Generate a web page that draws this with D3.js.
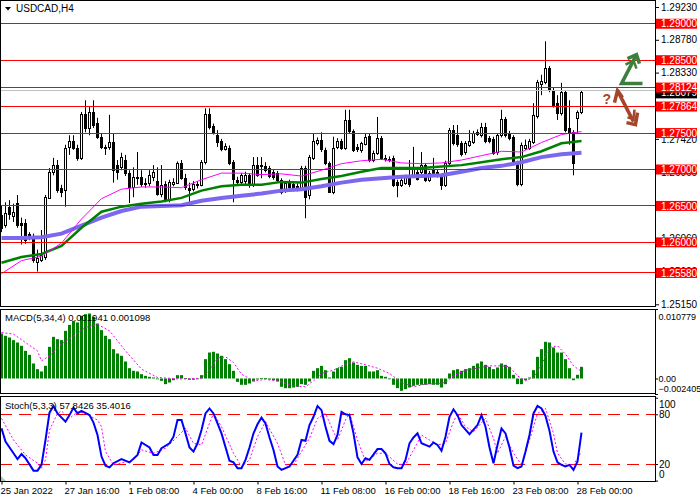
<!DOCTYPE html>
<html><head><meta charset="utf-8">
<script src="https://cdn.jsdelivr.net/npm/d3@7"></script>
<style>body{margin:0;background:#fff}svg{display:block}text{font-family:"Liberation Sans",Arial,sans-serif}</style>
</head><body><svg id="c" width="700" height="500"></svg>
<script>
const symbolTitle = "USDCAD,H4";
const openP = [1.2638,1.2623,1.2649,1.2636,1.2654,1.2627,1.2627,1.2612,1.2606,1.2573,
1.2576,1.2580,1.2662,1.2697,1.2706,1.2675,1.2672,1.2731,1.2739,1.2730,
1.2716,1.2776,1.2757,1.2779,1.2764,1.2745,1.2731,1.2731,1.2738,1.2706,
1.2703,1.2713,1.2695,1.2676,1.2688,1.2690,1.2681,1.2681,1.2690,1.2684,
1.2666,1.2680,1.2660,1.2680,1.2682,1.2709,1.2688,1.2675,1.2673,1.2680,
1.2679,1.2710,1.2776,1.2760,1.2747,1.2739,1.2728,1.2730,1.2710,1.2686,
1.2682,1.2684,1.2692,1.2679,1.2706,1.2705,1.2705,1.2702,1.2697,1.2695,
1.2686,1.2670,1.2681,1.2680,1.2678,1.2674,1.2702,1.2665,1.2716,1.2736,
1.2740,1.2727,1.2709,1.2669,1.2731,1.2739,1.2730,1.2768,1.2753,1.2731,
1.2727,1.2736,1.2746,1.2713,1.2723,1.2743,1.2716,1.2714,1.2716,1.2683,
1.2679,1.2682,1.2692,1.2692,1.2697,1.2696,1.2706,1.2686,1.2699,1.2697,
1.2690,1.2679,1.2709,1.2754,1.2747,1.2736,1.2723,1.2734,1.2738,1.2749,
1.2747,1.2758,1.2743,1.2742,1.2723,1.2747,1.2769,1.2750,1.2745,1.2709,
1.2680,1.2730,1.2730,1.2738,1.2773,1.2817,1.2820,1.2839,1.2809,1.2791,
1.2777,1.2806,1.2757,1.2751,1.2771,1.2779];
const highP = [1.2651,1.2655,1.2658,1.2653,1.2665,1.2634,1.2632,1.2614,1.2612,1.2590,
1.2617,1.2665,1.2702,1.2716,1.2713,1.2679,1.2734,1.2747,1.2747,1.2734,
1.2779,1.2795,1.2786,1.2795,1.2771,1.2750,1.2734,1.2775,1.2750,1.2713,
1.2723,1.2720,1.2699,1.2703,1.2724,1.2699,1.2688,1.2699,1.2706,1.2703,
1.2706,1.2684,1.2686,1.2688,1.2711,1.2713,1.2694,1.2682,1.2684,1.2684,
1.2713,1.2784,1.2784,1.2763,1.2754,1.2742,1.2736,1.2733,1.2713,1.2690,
1.2695,1.2697,1.2695,1.2717,1.2717,1.2717,1.2710,1.2705,1.2700,1.2698,
1.2688,1.2684,1.2686,1.2684,1.2681,1.2705,1.2705,1.2720,1.2750,1.2744,
1.2751,1.2730,1.2711,1.2745,1.2743,1.2742,1.2782,1.2782,1.2755,1.2735,
1.2738,1.2750,1.2749,1.2726,1.2772,1.2746,1.2720,1.2718,1.2719,1.2686,
1.2690,1.2693,1.2713,1.2731,1.2700,1.2724,1.2709,1.2698,1.2716,1.2700,
1.2693,1.2712,1.2757,1.2761,1.2761,1.2739,1.2739,1.2754,1.2753,1.2755,
1.2764,1.2764,1.2746,1.2745,1.2750,1.2782,1.2772,1.2753,1.2747,1.2712,
1.2737,1.2741,1.2742,1.2791,1.2823,1.2830,1.2876,1.2842,1.2812,1.2802,
1.2819,1.2809,1.2795,1.2754,1.2781,1.2808];
const lowP = [1.2614,1.2620,1.2631,1.2628,1.2620,1.2597,1.2598,1.2603,1.2572,1.2560,
1.2573,1.2576,1.2660,1.2692,1.2668,1.2662,1.2649,1.2720,1.2727,1.2712,
1.2713,1.2751,1.2747,1.2757,1.2742,1.2728,1.2720,1.2727,1.2682,1.2686,
1.2699,1.2691,1.2654,1.2662,1.2679,1.2676,1.2675,1.2677,1.2684,1.2664,
1.2662,1.2655,1.2655,1.2677,1.2680,1.2686,1.2672,1.2655,1.2670,1.2674,
1.2677,1.2707,1.2755,1.2748,1.2731,1.2725,1.2726,1.2706,1.2655,1.2679,
1.2679,1.2680,1.2675,1.2676,1.2690,1.2688,1.2696,1.2688,1.2686,1.2683,
1.2666,1.2668,1.2672,1.2670,1.2670,1.2671,1.2633,1.2659,1.2713,1.2733,
1.2724,1.2706,1.2668,1.2666,1.2728,1.2727,1.2727,1.2750,1.2724,1.2724,
1.2723,1.2733,1.2710,1.2710,1.2720,1.2713,1.2711,1.2710,1.2676,1.2662,
1.2676,1.2679,1.2676,1.2690,1.2685,1.2693,1.2683,1.2683,1.2692,1.2689,
1.2672,1.2676,1.2706,1.2733,1.2731,1.2718,1.2720,1.2731,1.2735,1.2746,
1.2744,1.2736,1.2736,1.2720,1.2720,1.2744,1.2744,1.2740,1.2706,1.2677,
1.2677,1.2727,1.2727,1.2735,1.2770,1.2802,1.2817,1.2806,1.2785,1.2768,
1.2774,1.2751,1.2734,1.2692,1.2750,1.2776];
const closeP = [1.2620,1.2640,1.2639,1.2642,1.2624,1.2624,1.2603,1.2608,1.2576,1.2579,
1.2583,1.2662,1.2697,1.2706,1.2672,1.2669,1.2730,1.2739,1.2730,1.2716,
1.2776,1.2757,1.2779,1.2761,1.2745,1.2731,1.2730,1.2738,1.2699,1.2697,
1.2717,1.2695,1.2676,1.2690,1.2690,1.2680,1.2679,1.2692,1.2697,1.2666,
1.2679,1.2658,1.2683,1.2683,1.2709,1.2688,1.2675,1.2672,1.2680,1.2678,
1.2710,1.2776,1.2758,1.2751,1.2738,1.2728,1.2732,1.2709,1.2686,1.2683,
1.2692,1.2692,1.2679,1.2706,1.2692,1.2706,1.2699,1.2691,1.2690,1.2686,
1.2669,1.2681,1.2676,1.2675,1.2674,1.2702,1.2662,1.2717,1.2739,1.2740,
1.2727,1.2709,1.2669,1.2730,1.2739,1.2730,1.2768,1.2753,1.2727,1.2728,
1.2736,1.2745,1.2713,1.2723,1.2743,1.2716,1.2714,1.2713,1.2679,1.2679,
1.2686,1.2690,1.2679,1.2703,1.2688,1.2706,1.2686,1.2695,1.2695,1.2692,
1.2679,1.2709,1.2754,1.2736,1.2734,1.2721,1.2736,1.2739,1.2750,1.2752,
1.2758,1.2739,1.2739,1.2723,1.2747,1.2769,1.2747,1.2743,1.2709,1.2680,
1.2734,1.2734,1.2739,1.2775,1.2820,1.2821,1.2839,1.2809,1.2788,1.2777,
1.2806,1.2754,1.2751,1.2709,1.2779,1.2806];

const maIdx = [0,5,10,15,20,25,30,35,40,45,50,55,60,65,70,75,80,85,90,95,100,105,110,115,120,125,130,135,140,145];
const maFast = [1.2557,1.2575,1.2581,1.2599,1.2632,1.2660,1.2673,1.2676,1.2676,1.2675,1.2686,1.2695,1.2695,1.2693,1.2694,1.2691,1.2699,1.2708,1.2712,1.2714,1.2709,1.2708,1.2709,1.2713,1.2719,1.2725,1.2724,1.2737,1.2748,1.2752];
const maMid = [1.2572,1.2580,1.2584,1.2595,1.2620,1.2642,1.2649,1.2653,1.2656,1.2661,1.2671,1.2677,1.2679,1.2679,1.2683,1.2682,1.2687,1.2691,1.2697,1.2702,1.2702,1.2702,1.2704,1.2706,1.2710,1.2714,1.2717,1.2725,1.2736,1.2739];
const maSlow = [1.2606,1.2606,1.2607,1.2612,1.2623,1.2634,1.2643,1.2649,1.2650,1.2651,1.2657,1.2661,1.2664,1.2667,1.2671,1.2673,1.2677,1.2682,1.2686,1.2688,1.2690,1.2691,1.2692,1.2697,1.2702,1.2705,1.2710,1.2717,1.2721,1.2723];

const levels = [1.29, 1.285, 1.28124, 1.27864, 1.275, 1.27, 1.265, 1.26, 1.2558];
const levelLabels = ["1.29000","1.28500","1.28124","1.27864","1.27500","1.27000","1.26500","1.26000","1.25580"];
const priceTicks = [1.2923,1.2878,1.2833,1.2787,1.2742,1.2696,1.2651,1.2606,1.2560,1.2515];
const priceTickLabels = ["1.29230","1.28780","1.28330","1.27870","1.27420","1.26960","1.26510","1.26060","1.25600","1.25150"];
const currentPrice = 1.28079;
const currentLabel = "1.28079";

const macdHist = [0.00698,0.00662,0.00636,0.00595,0.00558,0.00507,0.00429,0.00367,0.00233,0.00145,
0.00109,0.00196,0.00491,0.00646,0.00610,0.00595,0.00739,0.00832,0.00894,0.00869,
0.00972,0.00998,0.01008,0.00956,0.00853,0.00750,0.00662,0.00610,0.00455,0.00388,
0.00352,0.00264,0.00160,0.00119,0.00109,0.00067,0.00041,0.00026,0.00016,-0.0001,
-0.00036,-0.00088,-0.00062,-0.00026,0.00052,0.00052,0.00005,-0.0002,-0.0002,-0.0001,
0.00052,0.00300,0.00403,0.00414,0.00388,0.00352,0.00300,0.00222,0.00119,-0.00052,
-0.00098,-0.00098,-0.00078,-0.00047,-0.00016,0.00005,0.00005,-0.00016,-0.00026,-0.00047,
-0.00129,-0.0015,-0.0015,-0.0014,-0.00129,-0.00088,-0.00098,-0.00047,0.00119,0.0016,
0.00196,0.00129,0.00016,0.00109,0.0016,0.00181,0.00284,0.00315,0.00248,0.00212,
0.00196,0.00196,0.00109,0.00109,0.00129,0.00041,0.00026,-0.0001,-0.00098,-0.0015,
-0.00191,-0.00165,-0.0014,-0.00114,-0.00098,-0.00098,-0.00098,-0.00088,-0.00098,-0.00098,
-0.0014,-0.00088,0.00078,0.00129,0.00145,0.00119,0.00145,0.0016,0.00196,0.00233,
0.00264,0.00212,0.00181,0.00145,0.00171,0.00233,0.00212,0.00181,0.00057,-0.00088,
-0.00088,-0.00026,0.00016,0.00129,0.00336,0.00455,0.00569,0.00558,0.00481,0.00403,
0.00403,0.00300,0.0016,-0.00026,0.00057,0.00181];
const macdSigIdx = [0,3,6,9,10,12,15,18,21,24,27,31,35,39,45,50,52,54,56,58,60,63,66,69,73,76,78,80,83,86,88,91,94,97,100,103,106,109,111,113,116,119,122,125,127,129,131,133,135,137,139,141,143,145];
const macdSig = [0.00713,0.00688,0.00558,0.00429,0.00274,0.00352,0.00533,0.00662,0.00791,0.0084,0.0074,0.00429,0.00145,0.00016,-0.0001,0.00005,0.00129,0.00315,0.00336,0.00248,0.00067,-0.00036,-0.00016,-0.00036,-0.00114,-0.00129,-0.00036,0.00078,0.00129,0.00222,0.00259,0.00212,0.0016,0.00078,-0.00062,-0.00129,-0.00088,-0.00078,-0.00062,0.00041,0.00129,0.0016,0.00196,0.00196,0.00181,0.00041,-0.00036,0.00016,0.00212,0.00481,0.00507,0.00377,0.00196,0.00109];
const macdDomain = [-0.002405, 0.010779];
const macdTitle = "MACD(5,34,4) 0.001941 0.001098";

const stochIdx = [0,1,3,4,5,6,8,9,10,11,12,13,14,16,17,18,19,20,22,23,24,25,26,27,28,30,32,34,35,37,38,39,40,42,43,44,45,46,47,48,49,50,51,52,53,55,57,58,59,60,61,62,63,64,65,66,67,68,69,70,72,74,75,76,77,78,79,80,81,82,83,84,85,86,87,88,89,90,91,92,94,95,96,97,98,99,100,101,102,103,104,105,107,108,109,110,111,112,113,114,115,117,119,120,121,122,123,124,125,126,127,128,129,130,131,132,133,134,135,136,137,138,139,140,141,142,143,144,145];
const stochK = [63,47,33,26,32,27,12,12,19,49,82,90,81,71,79,88,81,84,79,70,55,29,18,16,21,26,22,31,46,40,31,31,39,45,53,73,73,57,40,35,45,61,81,87,81,57,24,22,15,15,25,40,57,68,76,69,52,37,17,13,17,31,49,48,67,77,90,85,65,48,44,55,83,80,79,57,28,20,27,25,38,38,33,20,16,15,15,25,45,52,57,45,41,46,43,36,53,77,86,79,67,56,67,79,65,40,21,43,63,57,40,18,15,17,35,55,81,90,87,78,60,35,22,19,17,19,13,23,58];
const stochDIdx = [0,3,6,9,10,11,12,14,15,17,19,21,24,25,26,28,33,35,38,41,44,46,48,50,52,53,55,58,60,62,64,66,69,71,73,75,77,79,81,83,84,86,87,89,91,94,96,99,101,103,105,107,109,111,113,114,116,118,121,123,124,126,128,130,132,134,136,138,139,141,143,145];
const stochD = [75,49,31,21,15,25,61,81,84,75,83,81,73,65,35,19,25,37,33,39,53,63,45,43,69,81,65,33,17,25,53,71,45,19,19,35,51,75,81,59,49,73,81,49,23,33,33,20,19,37,55,49,43,45,71,81,65,59,75,51,33,53,33,19,49,81,87,57,33,20,19,35];
const stochLevels = [80, 20];
const stochAxisVals = [100, 80, 20, 0];
const stochTitle = "Stoch(5,3,3) 57.8426 35.4016";

const timeTickIdx = [0,16,32,48,64,80,96,112,128,144];
const timeLabels = ["25 Jan 2022","27 Jan 16:00","1 Feb 08:00","4 Feb 00:00","8 Feb 16:00","11 Feb 08:00","16 Feb 00:00","18 Feb 16:00","23 Feb 08:00","28 Feb 00:00"];

// ---------- drawing ----------
const svg = d3.select("#c");
const R = 655;
const FF = '"Liberation Sans",Arial,sans-serif';
const x = d3.scaleLinear().domain([0, 145]).range([1.5, 581.5]);
const yP = d3.scaleLinear().domain([1.2515, 1.2923]).range([304.3, 7]);
const yM = d3.scaleLinear().domain(macdDomain).range([394, 309]);
const yS = d3.scaleLinear().domain([0, 100]).range([480.6, 397.7]);
const crisp = v => Math.round(v - 0.5) + 0.5;

const defs = svg.append("defs");
function clip(id, y0, y1) {
  defs.append("clipPath").attr("id", id).append("rect")
    .attr("x", 1).attr("y", y0).attr("width", R - 1).attr("height", y1 - y0);
}
clip("cm", 1, 306); clip("cmacd", 310, 393.5); clip("cs", 397, 481);

// ----- main panel -----
const gM = svg.append("g").attr("clip-path", "url(#cm)");
const bars = d3.range(openP.length);
gM.append("g").selectAll("line").data(bars).join("line")
  .attr("x1", i => x(i)).attr("x2", i => x(i))
  .attr("y1", i => yP(highP[i])).attr("y2", i => yP(lowP[i]))
  .attr("stroke", "#000").attr("stroke-width", 1);
gM.append("g").selectAll("rect").data(bars).join("rect")
  .attr("x", i => x(i) - 1).attr("width", 2)
  .attr("y", i => Math.round(yP(Math.max(openP[i], closeP[i]))) + 0.5)
  .attr("height", i => Math.max(1, Math.round(Math.abs(yP(openP[i]) - yP(closeP[i])))))
  .attr("fill", i => closeP[i] >= openP[i] ? "#fff" : "#000")
  .attr("stroke", "#000").attr("stroke-width", 1);

const maLine = vals => d3.line().x((d, k) => x(maIdx[k])).y(d => yP(d))(vals);
gM.append("path").attr("d", maLine(maSlow)).attr("fill", "none").attr("stroke", "#7b68ee").attr("stroke-width", 4);
gM.append("path").attr("d", maLine(maMid)).attr("fill", "none").attr("stroke", "#008000").attr("stroke-width", 2.5);
gM.append("path").attr("d", maLine(maFast)).attr("fill", "none").attr("stroke", "#ff00ff").attr("stroke-width", 1);

// current price line
gM.append("line").attr("x1", 0).attr("x2", R).attr("y1", crisp(yP(currentPrice))).attr("y2", crisp(yP(currentPrice)))
  .attr("stroke", "#c0c0c0").attr("stroke-width", 1);
// horizontal levels
gM.append("g").selectAll("line").data(levels).join("line")
  .attr("x1", 0).attr("x2", R)
  .attr("y1", d => crisp(yP(d))).attr("y2", d => crisp(yP(d)))
  .attr("stroke", "#ff0000").attr("stroke-width", 1);

// price axis
const axP = svg.append("g").attr("transform", `translate(${R},0)`)
  .call(d3.axisRight(yP).tickValues(priceTicks).tickFormat((d, k) => priceTickLabels[k]).tickSize(4).tickPadding(2));
axP.select(".domain").remove();
axP.selectAll("text").attr("font-size", 10).attr("font-family", FF).attr("fill", "#000");

// current price label (black)
const cy = yP(currentPrice) + 2;
svg.append("rect").attr("x", 656).attr("y", cy - 5.5).attr("width", 41).attr("height", 11).attr("fill", "#000");
svg.append("text").attr("x", 661).attr("y", cy).attr("dy", "0.35em").attr("font-size", 10).attr("fill", "#fff").text(currentLabel);

// level labels (red boxes)
const lg = svg.append("g").selectAll("g").data(levels).join("g");
lg.append("rect").attr("x", 656).attr("y", d => yP(d) - 5).attr("width", 41).attr("height", 10).attr("fill", "#ff0000");
lg.append("text").attr("x", 661).attr("y", d => yP(d)).attr("dy", "0.36em").attr("font-size", 10).attr("fill", "#fff")
  .text((d, k) => levelLabels[k]);

// title
svg.append("path").attr("d", "M5,7L11,7L8,10.5Z").attr("fill", "#000");
svg.append("text").attr("x", 16).attr("y", 8.5).attr("dy", "0.35em").attr("font-size", 10).attr("fill", "#000").text(symbolTitle);

// arrows (annotation)
const ax0 = x(145) + 40, ay0 = yP(levels[2]);
const green = "#3c7f3c", brown = "#a5462a";
const ga = svg.append("g").attr("fill", "none").attr("stroke", green).attr("stroke-width", 3.5).attr("stroke-linejoin", "miter");
ga.append("path").attr("d", `M${ax0+21},${ay0-4}L${ax0},${ay0-4}L${ax0+14},${ay0-31}`);
ga.append("path").attr("d", `M${ax0+6},${ay0-29}L${ax0+15},${ay0-33}L${ax0+18},${ay0-24}`);
ga.append("path").attr("d", `M${ax0+4},${ay0-23}L${ax0+12},${ay0-27}L${ax0+15},${ay0-19}`).attr("stroke-width", 2.5);
const ba = svg.append("g").attr("fill", "none").attr("stroke", brown).attr("stroke-width", 3.5);
ba.append("path").attr("d", `M${ax0-7},${ay0+15}L${ax0-4},${ay0+3}L${ax0+1},${ay0+10}`);
ba.append("path").attr("d", `M${ax0-4},${ay0+3}L${ax0+12},${ay0+34}`);
ba.append("path").attr("d", `M${ax0+5},${ay0+35}L${ax0+14},${ay0+37}L${ax0+16},${ay0+25}`);
ba.append("path").attr("d", `M${ax0+6},${ay0+30}L${ax0+12},${ay0+31}L${ax0+13},${ay0+22}`).attr("stroke-width", 2.5);
svg.append("text").attr("x", ax0 - 19).attr("y", ay0 + 16).attr("font-size", 14).attr("font-weight", "bold")
  .attr("fill", brown).text("?");

// ----- MACD panel -----
const gMacd = svg.append("g").attr("clip-path", "url(#cmacd)");
gMacd.selectAll("rect").data(macdHist).join("rect")
  .attr("x", (d, i) => x(i) - 1.5).attr("width", 3)
  .attr("y", d => yM(Math.max(0, d))).attr("height", d => Math.max(0.8, Math.abs(yM(d) - yM(0))))
  .attr("fill", "#008000");
gMacd.append("path")
  .attr("d", d3.line().x((d, k) => x(macdSigIdx[k])).y(d => yM(d))(macdSig))
  .attr("fill", "none").attr("stroke", "#ff00ff").attr("stroke-width", 1).attr("stroke-dasharray", "2,2");
const axM = svg.append("g").attr("transform", `translate(${R},0)`)
  .call(d3.axisRight(yM).tickValues([macdDomain[1], 0, macdDomain[0]])
    .tickFormat(d => d === 0 ? "0.00" : d3.format(".6f")(d)).tickSize(3).tickPadding(0.5));
axM.select(".domain").remove();
axM.selectAll("text").attr("font-size", 9).attr("font-family", FF).attr("fill", "#000")
  .attr("dy", d => d === macdDomain[1] ? "1.2em" : d === macdDomain[0] ? "-0.25em" : "0.32em");
svg.append("text").attr("x", 5).attr("y", 318).attr("dy", "0.35em").attr("font-size", 9.5).attr("fill", "#000").text(macdTitle);

// ----- Stochastic panel -----
const gS = svg.append("g").attr("clip-path", "url(#cs)");
gS.selectAll("line").data(stochLevels).join("line")
  .attr("x1", 0).attr("x2", R).attr("y1", d => crisp(yS(d))).attr("y2", d => crisp(yS(d)))
  .attr("stroke", "#ff0000").attr("stroke-width", 1).attr("stroke-dasharray", "12,7");
gS.append("path")
  .attr("d", d3.line().x((d, k) => x(stochDIdx[k])).y(d => yS(d))(stochD))
  .attr("fill", "none").attr("stroke", "#ff00ff").attr("stroke-width", 1).attr("stroke-dasharray", "2,2");
gS.append("path")
  .attr("d", d3.line().x((d, k) => x(stochIdx[k])).y(d => yS(d))(stochK))
  .attr("fill", "none").attr("stroke", "#0000ff").attr("stroke-width", 2);
const axS = svg.append("g").attr("transform", `translate(${R},0)`)
  .call(d3.axisRight(yS).tickValues(stochAxisVals).tickFormat(d => String(d)).tickSize(3).tickPadding(1));
axS.select(".domain").remove();
axS.selectAll("text").attr("font-size", 10).attr("font-family", FF).attr("fill", "#000")
  .attr("dy", d => d === 100 ? "0.95em" : d === 0 ? "-0.3em" : "0.32em");
svg.append("text").attr("x", 5).attr("y", 405.5).attr("dy", "0.35em").attr("font-size", 9.5).attr("fill", "#000").text(stochTitle);

// ----- panel borders -----
[[0.5, 306], [309.5, 84], [396.5, 85]].forEach(([y0, h]) => {
  svg.append("rect").attr("x", 0.5).attr("y", y0).attr("width", R).attr("height", h)
    .attr("fill", "none").attr("stroke", "#000").attr("stroke-width", 1);
});

// ----- time axis -----
const axT = svg.append("g").attr("transform", "translate(0,481.5)")
  .call(d3.axisBottom(x).tickValues(timeTickIdx).tickFormat((d, k) => timeLabels[k]).tickSize(3).tickPadding(3));
axT.select(".domain").remove();
axT.selectAll("text").attr("font-size", 9.5).attr("font-family", FF)
  .attr("fill", "#000").attr("text-anchor", "start").attr("x", -1.5);
svg.append("path").attr("d", "M1,476L1,481L6,481Z").attr("fill", "#c0c0c0");
</script>
</body></html>
